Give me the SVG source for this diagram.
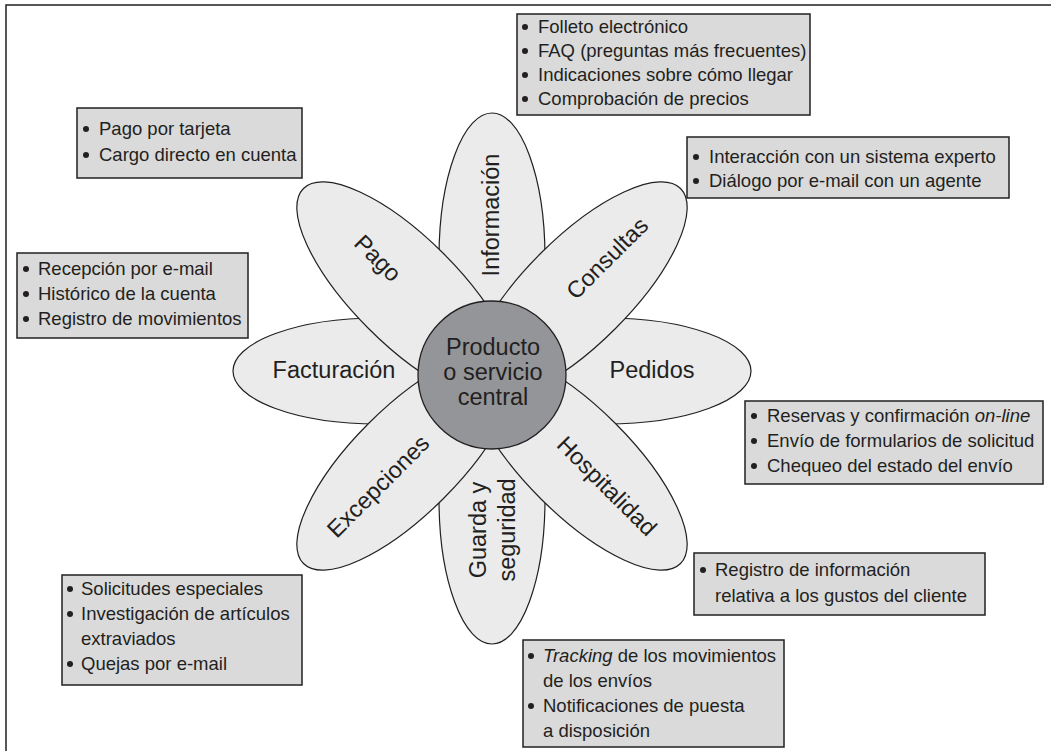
<svg xmlns="http://www.w3.org/2000/svg" width="1051" height="751" viewBox="0 0 1051 751">
<defs>
<style>
.frame{fill:#ffffff;stroke:#231f20;stroke-width:1.5}
.petal{fill:#ebebec;stroke:#231f20;stroke-width:1.2}
.core{fill:#939598;stroke:#231f20;stroke-width:1.3}
.box{fill:#dadada;stroke:#231f20;stroke-width:1.5}
.dot{fill:#231f20}
.lbl{font-family:"Liberation Sans",Arial,sans-serif;font-size:23.5px;fill:#231f20;text-anchor:middle}
.bt{font-family:"Liberation Sans",Arial,sans-serif;font-size:18.5px;fill:#231f20}
.it{font-style:italic}
</style>
</defs>
<rect class="frame" x="6" y="5" width="1060" height="760"/>
<g id="connectors"/>
<g id="petal-informacion">
<ellipse class="petal" cx="492" cy="258" rx="53" ry="145"/>
<text class="lbl" transform="translate(491,215) rotate(-90)" dy="0.35em">Información</text>
</g>
<g id="petal-pedidos">
<ellipse class="petal" cx="606" cy="371" rx="145" ry="53"/>
<text class="lbl" x="652" y="370" dy="0.35em">Pedidos</text>
</g>
<g id="petal-guarda">
<ellipse class="petal" cx="492" cy="499" rx="53" ry="145"/>
<text class="lbl" transform="translate(492,530) rotate(-90)"><tspan x="0" y="-14" dy="0.35em">Guarda y</tspan><tspan x="0" y="15" dy="0.35em">seguridad</tspan></text>
</g>
<g id="petal-facturacion">
<ellipse class="petal" cx="378" cy="371" rx="145" ry="53"/>
<text class="lbl" x="334" y="370" dy="0.35em">Facturación</text>
</g>
<g id="petal-pago">
<ellipse class="petal" cx="0" cy="0" rx="145" ry="53" transform="translate(406,291) rotate(45)"/>
<text class="lbl" transform="translate(378,258) rotate(45)" dy="0.35em">Pago</text>
</g>
<g id="petal-consultas">
<ellipse class="petal" cx="0" cy="0" rx="145" ry="53" transform="translate(578,291) rotate(-45)"/>
<text class="lbl" transform="translate(607,258) rotate(-45)" dy="0.35em">Consultas</text>
</g>
<g id="petal-hospitalidad">
<ellipse class="petal" cx="0" cy="0" rx="145" ry="53" transform="translate(578,461) rotate(45)"/>
<text class="lbl" transform="translate(607,486) rotate(45)" dy="0.35em">Hospitalidad</text>
</g>
<g id="petal-excepciones">
<ellipse class="petal" cx="0" cy="0" rx="145" ry="53" transform="translate(406,461) rotate(-45)"/>
<text class="lbl" transform="translate(378,486) rotate(-45)" dy="0.35em">Excepciones</text>
</g>
<g id="core">
<circle class="core" cx="492" cy="375" r="74"/>
<text class="lbl"><tspan x="493" y="355">Producto</tspan><tspan x="493" y="380">o servicio</tspan><tspan x="493" y="405">central</tspan></text>
</g>
<g id="box-informacion">
<rect class="box" x="517" y="14" width="293" height="101"/>
<circle class="dot" cx="525" cy="27" r="3"/><circle class="dot" cx="525" cy="51" r="3"/><circle class="dot" cx="525" cy="75" r="3"/><circle class="dot" cx="525" cy="99" r="3"/>
<text class="bt"><tspan x="538" y="33">Folleto electrónico</tspan><tspan x="538" y="57">FAQ (preguntas más frecuentes)</tspan><tspan x="538" y="81">Indicaciones sobre cómo llegar</tspan><tspan x="538" y="105">Comprobación de precios</tspan></text>
</g>
<g id="box-pago">
<rect class="box" x="77" y="108" width="225" height="70"/>
<circle class="dot" cx="86" cy="129" r="3"/><circle class="dot" cx="86" cy="155" r="3"/>
<text class="bt"><tspan x="99" y="135">Pago por tarjeta</tspan><tspan x="99" y="161">Cargo directo en cuenta</tspan></text>
</g>
<g id="box-consultas">
<rect class="box" x="687" y="137" width="322" height="61"/>
<circle class="dot" cx="696" cy="157" r="3"/><circle class="dot" cx="696" cy="181" r="3"/>
<text class="bt"><tspan x="709" y="163">Interacción con un sistema experto</tspan><tspan x="709" y="187">Diálogo por e-mail con un agente</tspan></text>
</g>
<g id="box-facturacion">
<rect class="box" x="17" y="253" width="231" height="85"/>
<circle class="dot" cx="26" cy="269" r="3"/><circle class="dot" cx="26" cy="294" r="3"/><circle class="dot" cx="26" cy="319" r="3"/>
<text class="bt"><tspan x="38" y="275">Recepción por e-mail</tspan><tspan x="38" y="300">Histórico de la cuenta</tspan><tspan x="38" y="325">Registro de movimientos</tspan></text>
</g>
<g id="box-pedidos">
<rect class="box" x="745" y="401" width="298" height="83"/>
<circle class="dot" cx="754" cy="416" r="3"/><circle class="dot" cx="754" cy="441" r="3"/><circle class="dot" cx="754" cy="466" r="3"/>
<text class="bt"><tspan x="767" y="422">Reservas y confirmación </tspan><tspan class="it">on-line</tspan><tspan x="767" y="447">Envío de formularios de solicitud</tspan><tspan x="767" y="472">Chequeo del estado del envío</tspan></text>
</g>
<g id="box-hospitalidad">
<rect class="box" x="694" y="553" width="291" height="62"/>
<circle class="dot" cx="703" cy="570" r="3"/>
<text class="bt"><tspan x="715" y="576">Registro de información</tspan><tspan x="715" y="602">relativa a los gustos del cliente</tspan></text>
</g>
<g id="box-guarda">
<rect class="box" x="523" y="640" width="261" height="107"/>
<circle class="dot" cx="531" cy="656" r="3"/><circle class="dot" cx="531" cy="706" r="3"/>
<text class="bt"><tspan x="543" y="662" class="it">Tracking</tspan><tspan> de los movimientos</tspan><tspan x="543" y="687">de los envíos</tspan><tspan x="543" y="712">Notificaciones de puesta</tspan><tspan x="543" y="737">a disposición</tspan></text>
</g>
<g id="box-excepciones">
<rect class="box" x="62" y="575" width="240" height="110"/>
<circle class="dot" cx="70" cy="589" r="3"/><circle class="dot" cx="70" cy="614" r="3"/><circle class="dot" cx="70" cy="664" r="3"/>
<text class="bt"><tspan x="81" y="595">Solicitudes especiales</tspan><tspan x="81" y="620">Investigación de artículos</tspan><tspan x="81" y="645">extraviados</tspan><tspan x="81" y="670">Quejas por e-mail</tspan></text>
</g>
</svg>
